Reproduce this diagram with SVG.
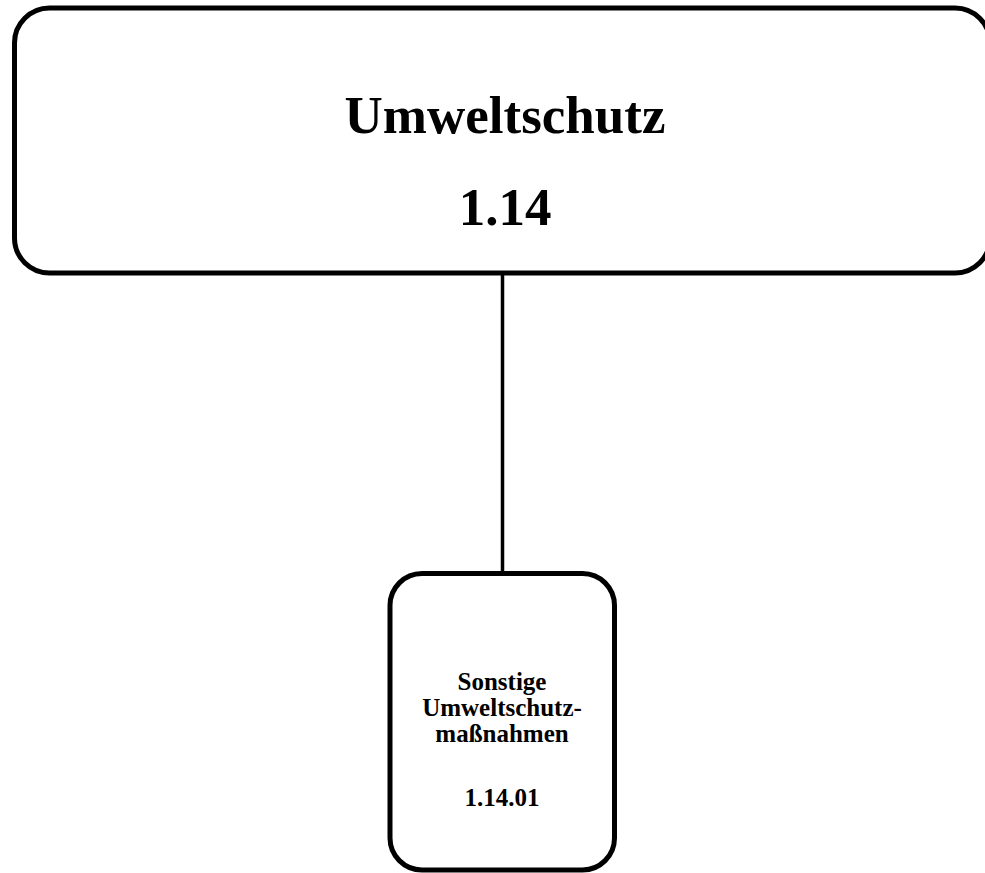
<svg xmlns="http://www.w3.org/2000/svg" width="985" height="873" viewBox="0 0 985 873">
<style>
.box{fill:#fff;stroke:#000;stroke-width:5}
.t{font-family:"Liberation Serif","Times New Roman",serif;font-weight:bold;fill:#000;text-anchor:middle}
.big{font-size:53px}
.small{font-size:25px}
.conn{stroke:#000;stroke-width:3.5;fill:none}
</style>
<rect width="985" height="873" fill="#fff"/>
<g id="connectors">
<line class="conn" x1="502.5" y1="273" x2="502.5" y2="573"/>
</g>
<g id="node-root">
<rect class="box" x="14.5" y="8" width="975.5" height="265" rx="35" ry="35"/>
<text class="t big" x="505" y="133">Umweltschutz</text>
<text class="t big" x="505" y="225">1.14</text>
</g>
<g id="node-child">
<rect class="box" x="390" y="573.5" width="224.5" height="296.5" rx="32" ry="32"/>
<text class="t small" x="502" y="690">Sonstige</text>
<text class="t small" x="502" y="716">Umweltschutz-</text>
<text class="t small" x="502" y="742">maßnahmen</text>
<text class="t small" x="502" y="806">1.14.01</text>
</g>
</svg>
